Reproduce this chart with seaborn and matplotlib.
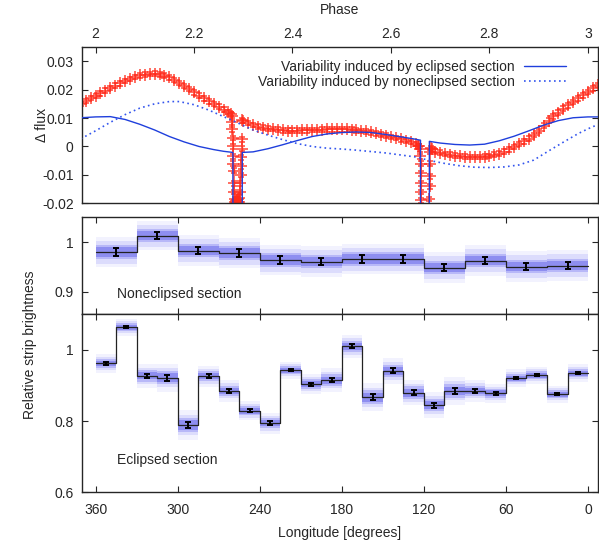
import numpy as np
import matplotlib
matplotlib.use("Agg")
import matplotlib.pyplot as plt
import seaborn as sns

# ---- top panel: light-curve residuals vs orbital phase ----
phase = [1.97, 1.98, 1.99, 2.00, 2.01, 2.02, 2.03, 2.04, 2.05, 2.06, 2.07, 2.08,
         2.09, 2.10, 2.11, 2.12, 2.13, 2.14, 2.15, 2.16, 2.17, 2.18, 2.19, 2.20,
         2.21, 2.22, 2.23, 2.24, 2.25, 2.26, 2.27, 2.275,
         # first eclipse
         2.277, 2.278, 2.278, 2.279, 2.279, 2.280, 2.280, 2.281, 2.281, 2.282,
         2.283, 2.284, 2.285, 2.286, 2.287, 2.288, 2.289, 2.290, 2.291, 2.292,
         2.293, 2.294, 2.295, 2.296, 2.296, 2.297, 2.297, 2.298,
         2.30, 2.31, 2.32, 2.33, 2.34, 2.35, 2.36, 2.37, 2.38, 2.39, 2.40, 2.41,
         2.42, 2.43, 2.44, 2.45, 2.46, 2.47, 2.48, 2.49, 2.50, 2.51, 2.52, 2.53,
         2.54, 2.55, 2.56, 2.57, 2.58, 2.59, 2.60, 2.61, 2.62, 2.63, 2.64, 2.65,
         2.655,
         # second eclipse
         2.657, 2.658, 2.659, 2.660, 2.660, 2.661, 2.661, 2.662, 2.665, 2.670,
         2.675, 2.678, 2.679, 2.679, 2.680, 2.680, 2.681, 2.683,
         2.69, 2.70, 2.71, 2.72, 2.73, 2.74, 2.75, 2.76, 2.77, 2.78, 2.79, 2.80,
         2.81, 2.82, 2.83, 2.84, 2.85, 2.86, 2.87, 2.88, 2.89, 2.90, 2.91, 2.92,
         2.93, 2.94, 2.95, 2.96, 2.97, 2.98, 2.99, 3.00, 3.01, 3.02]
dflux = [0.0150, 0.0160, 0.0170, 0.0178, 0.0187, 0.0196, 0.0205, 0.0214, 0.0222,
         0.0230, 0.0238, 0.0245, 0.0250, 0.0253, 0.0255, 0.0256, 0.0254, 0.0249,
         0.0243, 0.0234, 0.0224, 0.0213, 0.0202, 0.0190, 0.0179, 0.0169, 0.0159,
         0.0150, 0.0140, 0.0130, 0.0121, 0.0114,
         0.0108, 0.0085, 0.0060, 0.0030, 0.0000, -0.0035, -0.0060, -0.0085,
         -0.0130, -0.0160, -0.0185, -0.0195, -0.0198, -0.0192, -0.0199, -0.0190,
         -0.0197, -0.0185, -0.0195, -0.0180, -0.0160, -0.0130, -0.0100, -0.0070,
         -0.0038, -0.0008, 0.0025, 0.0092,
         0.0090, 0.0082, 0.0076, 0.0070, 0.0066, 0.0063, 0.0061, 0.0059, 0.0057,
         0.0056, 0.0056, 0.0056, 0.0057, 0.0057, 0.0058, 0.0058, 0.0059, 0.0060,
         0.0060, 0.0060, 0.0060, 0.0060, 0.0059, 0.0057, 0.0055, 0.0053, 0.0050,
         0.0046, 0.0042, 0.0038, 0.0033, 0.0029, 0.0025, 0.0020, 0.0015, 0.0008,
         0.0002,
         0.0000, -0.0010, -0.0035, -0.0060, -0.0095, -0.0130, -0.0160, -0.0190,
         -0.0300, -0.0300, -0.0300, -0.0185, -0.0140, -0.0105, -0.0060, -0.0020,
         -0.0005, -0.0010,
         -0.0018, -0.0022, -0.0026, -0.0029, -0.0032, -0.0034, -0.0036, -0.0037,
         -0.0037, -0.0037, -0.0036, -0.0033, -0.0029, -0.0025, -0.0018, -0.0010,
         -0.0002, 0.0008, 0.0018, 0.0028, 0.0040, 0.0055, 0.0073, 0.0091, 0.0106,
         0.0119, 0.0133, 0.0145, 0.0157, 0.0169, 0.0180, 0.0192, 0.0204, 0.0216]
dflux_err = 0.0008

# model: variability from the eclipsed section
ecl_phase = [1.97, 2.00, 2.03, 2.06, 2.09, 2.12, 2.15, 2.18, 2.21, 2.24, 2.26,
             2.279, 2.279, 2.298, 2.298, 2.32, 2.35, 2.38, 2.41, 2.44, 2.47,
             2.50, 2.53, 2.56, 2.59, 2.62, 2.645, 2.660, 2.660, 2.678, 2.678,
             2.70, 2.73, 2.76, 2.79, 2.82, 2.85, 2.88, 2.91, 2.94, 2.97, 3.00, 3.02]
ecl_flux = [0.0101, 0.0104, 0.0105, 0.0095, 0.0078, 0.0058, 0.0035, 0.0016,
            0.0000, -0.0011, -0.0017, -0.0021, -0.0300, -0.0300, -0.0021,
            -0.0019, -0.0008, 0.0006, 0.0021, 0.0035, 0.0044, 0.0049, 0.0051,
            0.0049, 0.0042, 0.0034, 0.0027, 0.0022, -0.0300, -0.0300, 0.0018,
            0.0012, 0.0007, 0.0005, 0.0008, 0.0020, 0.0036, 0.0055, 0.0075,
            0.0091, 0.0101, 0.0104, 0.0104]

# model: variability from the noneclipsed section
nonecl_phase = [1.97, 2.00, 2.03, 2.06, 2.09, 2.12, 2.15, 2.17, 2.20, 2.23, 2.26,
                2.29, 2.32, 2.35, 2.38, 2.41, 2.44, 2.47, 2.50, 2.53, 2.56, 2.59,
                2.62, 2.65, 2.68, 2.71, 2.74, 2.77, 2.80, 2.83, 2.86, 2.89, 2.92,
                2.95, 2.98, 3.00, 3.02]
nonecl_flux = [0.0027, 0.0055, 0.0085, 0.0112, 0.0135, 0.0150, 0.0158, 0.0158,
               0.0147, 0.0128, 0.0105, 0.0082, 0.0058, 0.0040, 0.0024, 0.0010,
               0.0000, -0.0006, -0.0009, -0.0013, -0.0018, -0.0023, -0.0030,
               -0.0037, -0.0050, -0.0060, -0.0068, -0.0073, -0.0074, -0.0072,
               -0.0065, -0.0048, -0.0016, 0.0015, 0.0045, 0.0062, 0.0077]

# ---- middle panel: noneclipsed strips (30 deg) ----
non_edges = [360, 330, 300, 270, 240, 210, 180, 150, 120, 90, 60, 30, 0]
non_vals = [0.980, 1.013, 0.983, 0.978, 0.964, 0.961, 0.966, 0.966, 0.949,
            0.963, 0.951, 0.953]
non_err = [0.0075, 0.007, 0.0075, 0.0075, 0.0075, 0.0075, 0.0075, 0.0075,
           0.0075, 0.0075, 0.0075, 0.0075]

# ---- bottom panel: eclipsed strips (15 deg) ----
ecl_edges = [360, 345, 330, 315, 300, 285, 270, 255, 240, 225, 210, 195, 180,
             165, 150, 135, 120, 105, 90, 75, 60, 45, 30, 15, 0]
ecl_vals = [0.962, 1.064, 0.927, 0.922, 0.789, 0.926, 0.885, 0.829, 0.794,
            0.943, 0.904, 0.915, 1.010, 0.867, 0.941, 0.880, 0.845, 0.885,
            0.885, 0.878, 0.921, 0.929, 0.875, 0.935]
ecl_err = [0.004, 0.003, 0.006, 0.008, 0.009, 0.005, 0.005, 0.004, 0.005, 0.003,
           0.004, 0.006, 0.006, 0.008, 0.007, 0.007, 0.007, 0.008, 0.005, 0.004,
           0.003, 0.003, 0.003, 0.003]

sns.set_style("ticks")
plt.rcParams["font.family"] = ["Liberation Sans", "DejaVu Sans"]
plt.rcParams["axes.unicode_minus"] = False
plt.rcParams["axes.linewidth"] = 1.0

W, H = 599, 546
fig = plt.figure(figsize=(W / 100, H / 100), dpi=100)
left, right = 82 / W, 598 / W


def rect(top_px, bot_px):
    return [left, 1 - bot_px / H, right - left, (bot_px - top_px) / H]


ax1 = fig.add_axes(rect(47, 203.3))
ax2 = fig.add_axes(rect(217.3, 314.3))
ax3 = fig.add_axes(rect(314.3, 492.3))

red = "#ff2a1a"
blue = "#1f3fdc"

# top panel
ax1.errorbar(phase, dflux, yerr=dflux_err, fmt="+", color=red, ms=8, mew=1.2,
             elinewidth=1.0, capsize=2.5, capthick=1.0, alpha=0.8, zorder=2)
sns.lineplot(x=ecl_phase, y=ecl_flux, ax=ax1, estimator=None, sort=False,
             color=blue, lw=1.0, zorder=3,
             label="Variability induced by eclipsed section")
sns.lineplot(x=nonecl_phase, y=nonecl_flux, ax=ax1, estimator=None, sort=False,
             color="#3355ee", lw=1.2, ls=(0, (1, 2)), zorder=3,
             label="Variability induced by noneclipsed section")
ax1.set_xlim(1.9725, 3.0205)
ax1.set_ylim(-0.02, 0.035)
ax1.set_xticks([2, 2.2, 2.4, 2.6, 2.8, 3])
ax1.set_xticklabels(["2", "2.2", "2.4", "2.6", "2.8", "3"])
ax1.set_yticks([-0.02, -0.01, 0, 0.01, 0.02, 0.03])
ax1.set_yticklabels(["-0.02", "-0.01", "0", "0.01", "0.02", "0.03"])
ax1.tick_params(axis="x", bottom=False, top=True, labelbottom=False,
                labeltop=True, direction="in", length=4.5, pad=4, labelsize=10)
ax1.tick_params(axis="y", left=True, right=True, direction="in", length=4.5,
                pad=6, labelsize=10)
ax1.set_xlabel("")
ax1.set_ylabel("")
ax1.legend(loc="upper right", bbox_to_anchor=((566 - 82) / 516, 0.915),
           frameon=False, markerfirst=False, fontsize=10, handlelength=3.0,
           handletextpad=0.7, labelspacing=0.05, borderpad=0, borderaxespad=0)

# strip panels
band_cols = ["#f2f2fe", "#dcdcfc", "#b8b8f8", "#8e8ef0"]


def strip_panel(ax, edges, vals, err, coef):
    e = np.array(edges, dtype=float)
    v = np.array(vals)
    s = np.array(err)
    centers = (e[:-1] + e[1:]) / 2
    widths = e[:-1] - e[1:]
    for (a, b), c in zip(coef, band_cols):
        hw = a * s + b
        ax.bar(centers, 2 * hw, bottom=v - hw, width=widths, color=c,
               linewidth=0, zorder=1)
    sns.lineplot(x=np.append(e[:-1], e[-1]), y=np.append(v, v[-1]), ax=ax,
                 estimator=None, sort=False, drawstyle="steps-post",
                 color="#222222", lw=0.9, zorder=2)
    ax.errorbar(centers, v, yerr=s, fmt="none", ecolor="black", elinewidth=1.4,
                capsize=2.5, capthick=1.4, zorder=3)
    ax.set_xlim(370.0, -7.3)
    ax.set_xticks([360, 300, 240, 180, 120, 60, 0])
    ax.tick_params(axis="both", direction="in", length=4.5, top=True,
                   right=True, labelsize=10)


strip_panel(ax2, non_edges, non_vals, non_err,
            [(3, 0.008), (2, 0.008), (1, 0.006), (1, 0.002)])
ax2.set_ylim(0.855, 1.05)
ax2.set_yticks([0.9, 1.0])
ax2.set_yticklabels(["0.9", "1"])
ax2.tick_params(axis="x", labelbottom=False)
ax2.tick_params(axis="y", pad=6)
ax2.text(344.3, 0.896, "Noneclipsed section", fontsize=10, va="center")

strip_panel(ax3, ecl_edges, ecl_vals, ecl_err,
            [(3, 0.015), (2, 0.011), (1.5, 0.007), (1, 0.004)])
ax3.set_ylim(0.6, 1.1)
ax3.set_yticks([0.6, 0.8, 1.0])
ax3.set_yticklabels(["0.6", "0.8", "1"])
ax3.set_xticklabels(["360", "300", "240", "180", "120", "60", "0"])
ax3.tick_params(axis="x", pad=8)
ax3.tick_params(axis="y", pad=6)
ax3.text(344.3, 0.69, "Eclipsed section", fontsize=10, va="center")

fig.text(340 / W, 1 - 10 / H, "Phase", ha="center", va="center", fontsize=10)
fig.text(42 / W, 1 - 125 / H, "\u0394 flux", ha="center", va="center",
         rotation=90, fontsize=10)
fig.text(30 / W, 1 - 345 / H, "Relative strip brightness", ha="center",
         va="center", rotation=90, fontsize=10)
fig.text(340 / W, 1 - 533 / H, "Longitude [degrees]", ha="center", va="center",
         fontsize=10)

fig.savefig("out.png", dpi=100)
